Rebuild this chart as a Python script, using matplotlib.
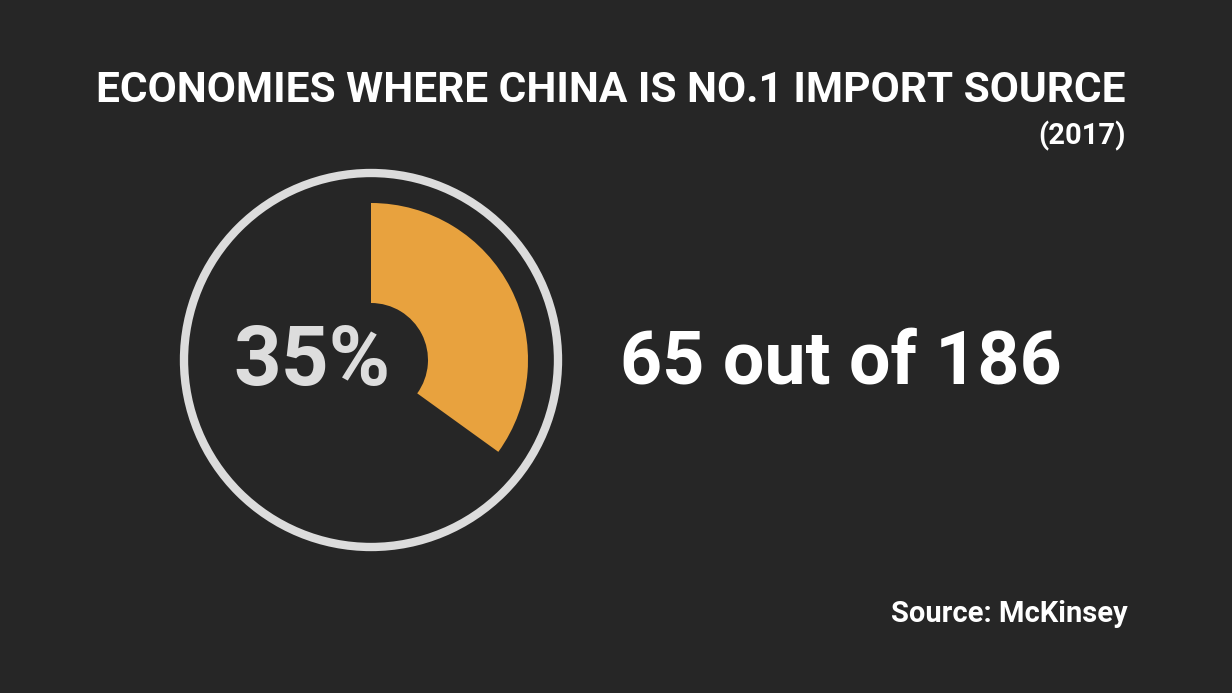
import matplotlib
matplotlib.use("Agg")
import matplotlib.pyplot as plt
from matplotlib.patches import Wedge, Circle

# data
title = "ECONOMIES WHERE CHINA IS NO.1 IMPORT SOURCE"
year = "(2017)"
china_first = 65
total_economies = 186
source = "Source: McKinsey"

share = china_first / total_economies
bg = "#262626"
orange = "#e8a23e"
ring = "#dcdcdc"

plt.rcParams["font.family"] = ["Roboto", "DejaVu Sans"]

fig = plt.figure(figsize=(12.32, 6.93), dpi=100, facecolor=bg)
ax = fig.add_axes([0, 0, 1, 1])
ax.set_facecolor(bg)
ax.set_xlim(0, 1232)
ax.set_ylim(693, 0)
ax.axis("off")

cx, cy = 371, 360
# outer ring
ax.add_patch(Circle((cx, cy), 187, fill=False, lw=6, ec=ring))
# share wedge, clockwise from top (y axis is inverted, so angles go the other way)
start = -90
end = -90 + 360 * share
ax.add_patch(Wedge((cx, cy), 157, start, end, width=100, fc=orange, ec="none"))

ax.text(312, 362, f"{share * 100:.0f}%", color="#dddddd", fontsize=60,
        fontweight="bold", ha="center", va="center")
ax.text(620, 364, f"{china_first} out of {total_economies}", color="white",
        fontsize=53, fontweight="bold", ha="left", va="center")

ax.text(1126, 90, title, color="white", fontsize=30.5, fontweight="bold",
        ha="right", va="center")
ax.text(1126, 136, year, color="white", fontsize=21, fontweight="bold",
        ha="right", va="center")
ax.text(1128, 614, source, color="white", fontsize=21, fontweight="bold",
        ha="right", va="center")

fig.savefig("out.png", dpi=100, facecolor=bg)
